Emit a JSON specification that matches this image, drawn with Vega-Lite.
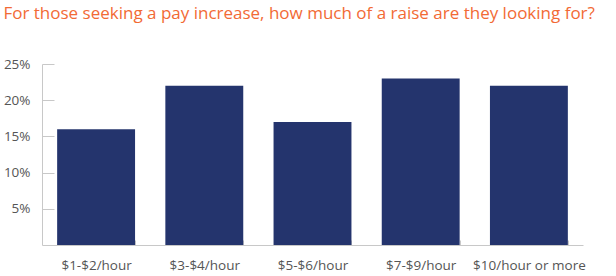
{
  "$schema": "https://vega.github.io/schema/vega-lite/v6.json",
  "autosize": "none",
  "width": 541,
  "height": 181,
  "padding": {"left": 42, "top": 64, "right": 33, "bottom": 31},
  "background": "white",
  "title": {
    "text": "For those seeking a pay increase, how much of a raise are they looking for?",
    "anchor": "start",
    "offset": 34,
    "fontSize": 17,
    "font": "Open Sans",
    "fontWeight": "normal",
    "color": "#F26A35"
  },
  "data": {
    "values": [
      {"range": "$1-$2/hour", "pct": 16},
      {"range": "$3-$4/hour", "pct": 22},
      {"range": "$5-$6/hour", "pct": 17},
      {"range": "$7-$9/hour", "pct": 23},
      {"range": "$10/hour or more", "pct": 22}
    ]
  },
  "mark": {"type": "bar", "color": "#24346D"},
  "encoding": {
    "x": {
      "field": "range",
      "type": "nominal",
      "sort": null,
      "scale": {"paddingInner": 0.28, "paddingOuter": 0.14},
      "axis": {
        "title": null,
        "labelAngle": 0,
        "labelFont": "Open Sans",
        "labelFontSize": 13.5,
        "labelColor": "#555555",
        "labelPadding": 18,
        "domainColor": "#C8C8C8",
        "tickColor": "#C8C8C8",
        "tickBand": "extent",
        "tickSize": -5
      }
    },
    "y": {
      "field": "pct",
      "type": "quantitative",
      "scale": {"domain": [0, 25]},
      "axis": {
        "title": null,
        "values": [5, 10, 15, 20, 25],
        "labelExpr": "datum.value + '%'",
        "labelFont": "Open Sans",
        "labelFontSize": 13.5,
        "labelColor": "#555555",
        "domainColor": "#C8C8C8",
        "tickColor": "#C8C8C8",
        "tickSize": -12,
        "labelPadding": 24,
        "grid": false
      }
    }
  },
  "config": {"view": {"stroke": null}}
}
